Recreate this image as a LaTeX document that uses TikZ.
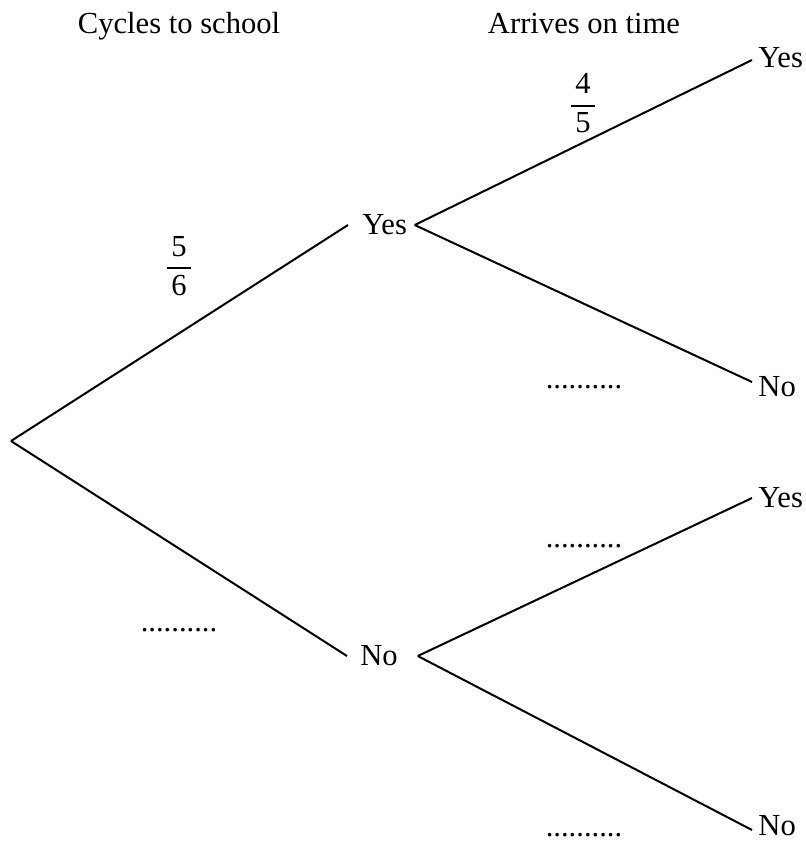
\documentclass[tikz,border=0pt]{standalone}
\usepackage{amsmath}
\usepackage{fontspec}
\setmainfont{Liberation Serif}
\newcommand{\frc}[2]{$\genfrac{}{}{1pt}{0}{\hspace{2.4pt}\text{#1}\hspace{2.4pt}}{\hspace{2.4pt}\text{#2}\hspace{2.4pt}}$}
\begin{document}
\begin{tikzpicture}[x=0.5pt,y=-0.5pt,
  lbl/.style={font=\fontsize{15.3}{18}\selectfont, text=black},
  br/.style={lbl, anchor=west, inner ysep=0pt},
  dots/.style={lbl, inner sep=0pt},
  edge/.style={draw=black, line width=1pt}]
\useasboundingbox (0,0) rectangle (805,841);
% headings
\node[lbl, anchor=base] (h1) at (179,33) {Cycles to school};
\node[lbl, anchor=base] (h2) at (584,33) {Arrives on time};
% nodes
\coordinate (root) at (11,441);
\node[br, inner xsep=7pt] (yes1) at (348,225) {Yes};
\node[br, inner xsep=6.5pt] (no1) at (347,656) {No};
\node[br, inner xsep=3pt] (yes2) at (752,58) {Yes};
\node[br, inner xsep=3pt] (no2) at (752,387) {No};
\node[br, inner xsep=3pt] (yes3) at (752,498) {Yes};
\node[br, inner xsep=3pt] (no3) at (752,826) {No};
% branches
\draw[edge] (root) -- (yes1.west);
\draw[edge] (root) -- (no1.west);
\draw[edge] ([xshift=-3.3pt]yes1.east) -- ([yshift=-1pt]yes2.west);
\draw[edge] ([xshift=-3.3pt]yes1.east) -- ([yshift=2.5pt]no2.west);
\draw[edge] ([xshift=3.3pt]no1.east) -- (yes3.west);
\draw[edge] ([xshift=3.3pt]no1.east) -- ([yshift=-2pt]no3.west);
% probabilities
\node[lbl, inner sep=0pt] (p1) at (179,266) {\frc{5}{6}};
\node[lbl, inner sep=0pt] (p2) at (583,103) {\frc{4}{5}};
\node[dots] (d1) at (179,630) {..........};
\node[dots] (d2) at (584,387) {..........};
\node[dots] (d3) at (584,546) {..........};
\node[dots] (d4) at (584,835) {..........};
\end{tikzpicture}
\end{document}
